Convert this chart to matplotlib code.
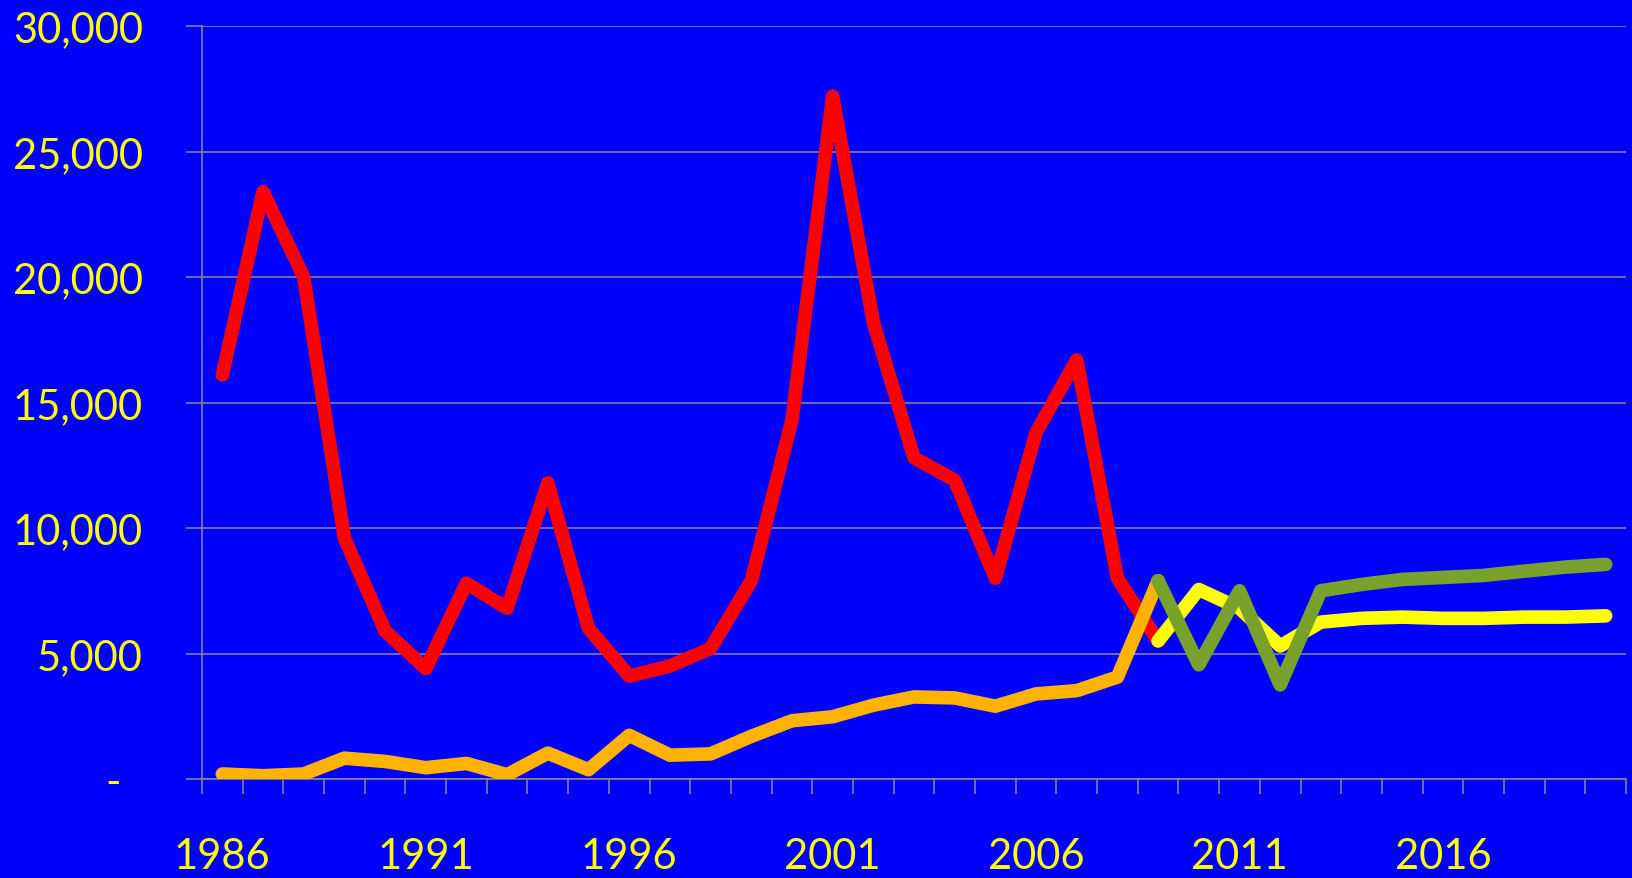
import matplotlib
matplotlib.use("Agg")
import matplotlib.pyplot as plt
import numpy as np

# years on the category axis
years = list(range(1986, 2021))

# series values
red_vals = [16100, 23400, 20000, 9600, 5900, 4400, 7800, 6800, 11800, 6000,
            4100, 4500, 5200, 7900, 14300, 27200, 18200, 12800, 11900, 8000,
            13800, 16700, 8000, 5500]
orange_vals = [200, 130, 200, 830, 700, 450, 620, 170, 1030, 370,
               1740, 950, 1000, 1700, 2320, 2480, 2940, 3270, 3230, 2900,
               3390, 3520, 4060, 7900]
yellow_vals = [5500, 7550, 6800, 5300, 6250, 6400, 6450, 6400, 6400, 6450, 6450, 6500]
green_vals = [7900, 4550, 7500, 3750, 7500, 7750, 7950, 8030, 8110, 8280, 8440, 8550]

ytick_vals = [0, 5000, 10000, 15000, 20000, 25000, 30000]
ytick_text = ["-  ", "5,000", "10,000", "15,000", "20,000", "25,000", "30,000"]
xlabel_years = [1986, 1991, 1996, 2001, 2006, 2011, 2016]

bg = "#0000FF"
grid_col = "#8C8C8C"
label_col = "#FFFF00"
font = ["Lato", "DejaVu Sans"]

fig = plt.figure(figsize=(16.32, 8.79), dpi=100, facecolor=bg)
ax = fig.add_axes([202/1632, 1-780/879, (1626-202)/1632, (780-27)/879])
ax.set_facecolor(bg)

x = np.arange(len(years))
x_early = x[:len(red_vals)]
x_late = x[len(red_vals)-1:len(red_vals)-1+len(yellow_vals)]

kw = dict(lw=9.8, solid_capstyle="round", solid_joinstyle="round", zorder=3)
ax.plot(x_early, red_vals, color="#FF0000", **kw)
ax.plot(x_early, orange_vals, color="#FFB300", **kw)
ax.plot(x_late, yellow_vals, color="#FFFF00", **kw)
ax.plot(x_late, green_vals, color="#78A22C", **kw)

ax.set_xlim(-0.5, len(years) - 0.5)
ax.set_ylim(0, 30000)

# y axis
ax.set_yticks(ytick_vals)
ax.set_yticklabels(ytick_text, fontsize=30, color=label_col, family=font)
ax.tick_params(axis="y", direction="out", length=11.5, width=1.1, color=grid_col, pad=31)
ax.grid(axis="y", color=grid_col, lw=1.1, zorder=1)

# x axis: ticks on category boundaries, labels on centres
ax.set_xticks(np.arange(-0.5, len(years)), minor=False)
ax.set_xticklabels([])
ax.tick_params(axis="x", which="major", direction="out", length=11, width=1.1, color=grid_col)
ax.set_xticks([years.index(y) for y in xlabel_years], minor=True)
ax.set_xticklabels([str(y) for y in xlabel_years], minor=True,
                   fontsize=30, color=label_col, family=font)
ax.tick_params(axis="x", which="minor", length=0, pad=42)

for s in ["top", "right"]:
    ax.spines[s].set_visible(False)
for s in ["left", "bottom"]:
    ax.spines[s].set_color(grid_col)
    ax.spines[s].set_linewidth(1.1)

fig.savefig("out.png", dpi=100, facecolor=bg)
